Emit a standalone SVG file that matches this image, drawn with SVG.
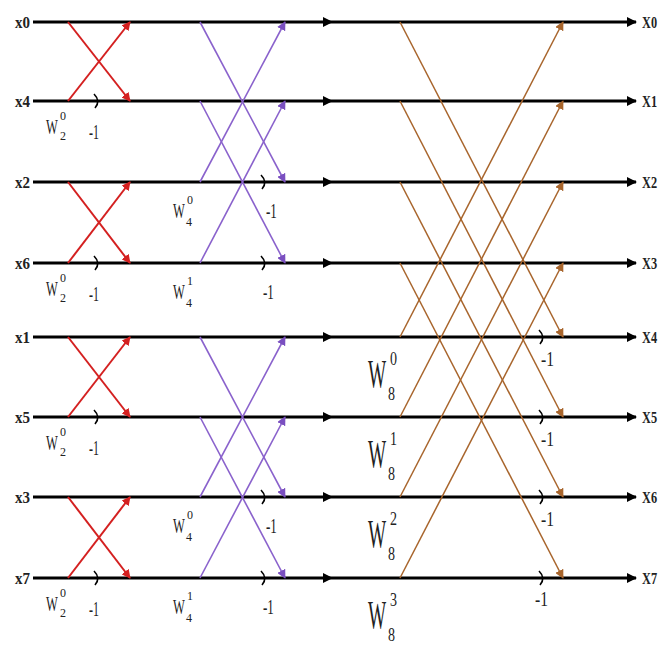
<svg xmlns="http://www.w3.org/2000/svg" width="671" height="649" viewBox="0 0 671 649" font-family="'Liberation Serif', 'Times New Roman', serif">
<defs>
<marker id="ab" viewBox="0 0 10 10" refX="9" refY="5" markerWidth="10" markerHeight="10" markerUnits="userSpaceOnUse" orient="auto"><path d="M0 0L10 5L0 10z" fill="#000"/></marker>
<marker id="ar" viewBox="0 0 10 10" refX="9" refY="5" markerWidth="9" markerHeight="9" markerUnits="userSpaceOnUse" orient="auto"><path d="M0 0L10 5L0 10z" fill="#d42020"/></marker>
<marker id="ap" viewBox="0 0 10 10" refX="9" refY="5" markerWidth="9" markerHeight="9" markerUnits="userSpaceOnUse" orient="auto"><path d="M0 0L10 5L0 10z" fill="#7a4fc0"/></marker>
<marker id="ao" viewBox="0 0 10 10" refX="9" refY="5" markerWidth="9" markerHeight="9" markerUnits="userSpaceOnUse" orient="auto"><path d="M0 0L10 5L0 10z" fill="#a8652c"/></marker>
</defs>
<style>
.ln{stroke:#000;stroke-width:3;fill:none}
.r{stroke:#d42020;stroke-width:2;fill:none;marker-end:url(#ar)}
.p{stroke:#8a62cc;stroke-width:1.6;fill:none;marker-end:url(#ap)}
.o{stroke:#a8652c;stroke-width:1.5;fill:none;marker-end:url(#ao)}
.m{stroke:#000;stroke-width:1.6;fill:none}
text{font-family:"Liberation Serif","Times New Roman",serif;fill:#222}
.lb{font-size:16px;font-weight:bold}
.w{font-size:22px}
.w8{font-size:40px}
.s{font-size:12px}
.s8{font-size:18px}
.n{font-size:21px}
.n3{font-size:22px}
</style>
<rect width="671" height="649" fill="#fff"/>
<g id="connectors">
<g class="ln">
<path d="M33 22H332" marker-end="url(#ab)"/><path d="M332 22H636" marker-end="url(#ab)"/>
<path d="M33 101H332" marker-end="url(#ab)"/><path d="M332 101H636" marker-end="url(#ab)"/>
<path d="M33 182H332" marker-end="url(#ab)"/><path d="M332 182H636" marker-end="url(#ab)"/>
<path d="M33 263H332" marker-end="url(#ab)"/><path d="M332 263H636" marker-end="url(#ab)"/>
<path d="M33 337H332" marker-end="url(#ab)"/><path d="M332 337H636" marker-end="url(#ab)"/>
<path d="M33 417H332" marker-end="url(#ab)"/><path d="M332 417H636" marker-end="url(#ab)"/>
<path d="M33 497H332" marker-end="url(#ab)"/><path d="M332 497H636" marker-end="url(#ab)"/>
<path d="M33 578H332" marker-end="url(#ab)"/><path d="M332 578H636" marker-end="url(#ab)"/>
</g>
<path class="r" d="M68 22L130 101"/><path class="r" d="M68 101L130 22"/>
<path class="r" d="M68 182L130 263"/><path class="r" d="M68 263L130 182"/>
<path class="r" d="M68 337L130 417"/><path class="r" d="M68 417L130 337"/>
<path class="r" d="M68 497L130 578"/><path class="r" d="M68 578L130 497"/>
<path class="p" d="M200 22L285 182"/><path class="p" d="M200 182L285 22"/>
<path class="p" d="M200 101L285 263"/><path class="p" d="M200 263L285 101"/>
<path class="p" d="M200 337L285 497"/><path class="p" d="M200 497L285 337"/>
<path class="p" d="M200 417L285 578"/><path class="p" d="M200 578L285 417"/>
<path class="o" d="M400 22L563 337"/><path class="o" d="M400 337L563 22"/>
<path class="o" d="M400 101L563 417"/><path class="o" d="M400 417L563 101"/>
<path class="o" d="M400 182L563 497"/><path class="o" d="M400 497L563 182"/>
<path class="o" d="M400 263L563 578"/><path class="o" d="M400 578L563 263"/>
<g class="m">
<path d="M94 94Q101 101 95 108"/><path d="M94 256Q101 263 95 270"/>
<path d="M94 410Q101 417 95 424"/><path d="M94 571Q101 578 95 585"/>
<path d="M261 175Q268 182 262 189"/><path d="M261 256Q268 263 262 270"/>
<path d="M261 490Q268 497 262 504"/><path d="M261 571Q268 578 262 585"/>
<path d="M539 330Q546 337 540 344"/><path d="M539 410Q546 417 540 424"/>
<path d="M539 490Q546 497 540 504"/><path d="M539 571Q546 578 540 585"/>
</g>
</g>
<g id="inputs" class="lb">
<text x="15" y="28" textLength="15" lengthAdjust="spacingAndGlyphs">x0</text>
<text x="15" y="107" textLength="15" lengthAdjust="spacingAndGlyphs">x4</text>
<text x="15" y="188" textLength="15" lengthAdjust="spacingAndGlyphs">x2</text>
<text x="15" y="269" textLength="15" lengthAdjust="spacingAndGlyphs">x6</text>
<text x="15" y="343" textLength="15" lengthAdjust="spacingAndGlyphs">x1</text>
<text x="15" y="423" textLength="15" lengthAdjust="spacingAndGlyphs">x5</text>
<text x="15" y="503" textLength="15" lengthAdjust="spacingAndGlyphs">x3</text>
<text x="15" y="584" textLength="15" lengthAdjust="spacingAndGlyphs">x7</text>
</g>
<g id="outputs" class="lb">
<text transform="translate(642 28) scale(0.77 1)">X0</text>
<text transform="translate(642 107) scale(0.77 1)">X1</text>
<text transform="translate(642 188) scale(0.77 1)">X2</text>
<text transform="translate(642 269) scale(0.77 1)">X3</text>
<text transform="translate(642 343) scale(0.77 1)">X4</text>
<text transform="translate(642 423) scale(0.77 1)">X5</text>
<text transform="translate(642 503) scale(0.77 1)">X6</text>
<text transform="translate(642 584) scale(0.77 1)">X7</text>
</g>
<g id="twiddles">
<g id="w20a"><text class="w" transform="translate(46 134) scale(0.57 1)">W</text><text class="s" x="60" y="120">0</text><text class="s" x="60" y="140">2</text></g>
<g id="w20b"><text class="w" transform="translate(46 296) scale(0.57 1)">W</text><text class="s" x="60" y="282">0</text><text class="s" x="60" y="302">2</text></g>
<g id="w20c"><text class="w" transform="translate(46 450) scale(0.57 1)">W</text><text class="s" x="60" y="436">0</text><text class="s" x="60" y="456">2</text></g>
<g id="w20d"><text class="w" transform="translate(46 611) scale(0.57 1)">W</text><text class="s" x="60" y="597">0</text><text class="s" x="60" y="617">2</text></g>
<g id="w40a"><text class="w" transform="translate(173 218) scale(0.57 1)">W</text><text class="s" x="187" y="204">0</text><text class="s" x="186" y="226">4</text></g>
<g id="w41a"><text class="w" transform="translate(173 299) scale(0.57 1)">W</text><text class="s" x="187" y="285">1</text><text class="s" x="186" y="307">4</text></g>
<g id="w40b"><text class="w" transform="translate(173 533) scale(0.57 1)">W</text><text class="s" x="187" y="519">0</text><text class="s" x="186" y="541">4</text></g>
<g id="w41b"><text class="w" transform="translate(173 614) scale(0.57 1)">W</text><text class="s" x="187" y="600">1</text><text class="s" x="186" y="622">4</text></g>
<g id="w80"><text class="w8" transform="translate(368 387) scale(0.48 1)">W</text><text class="s8" transform="translate(390 365) scale(0.78 1)">0</text><text class="s8" transform="translate(388 400) scale(0.78 1)">8</text></g>
<g id="w81"><text class="w8" transform="translate(368 467) scale(0.48 1)">W</text><text class="s8" transform="translate(390 445) scale(0.78 1)">1</text><text class="s8" transform="translate(388 480) scale(0.78 1)">8</text></g>
<g id="w82"><text class="w8" transform="translate(368 547) scale(0.48 1)">W</text><text class="s8" transform="translate(390 525) scale(0.78 1)">2</text><text class="s8" transform="translate(388 560) scale(0.78 1)">8</text></g>
<g id="w83"><text class="w8" transform="translate(368 628) scale(0.48 1)">W</text><text class="s8" transform="translate(390 606) scale(0.78 1)">3</text><text class="s8" transform="translate(388 641) scale(0.78 1)">8</text></g>
</g>
<g id="minus">
<text class="n" transform="translate(89 139) scale(0.57 1)">-1</text>
<text class="n" transform="translate(89 301) scale(0.57 1)">-1</text>
<text class="n" transform="translate(89 455) scale(0.57 1)">-1</text>
<text class="n" transform="translate(89 616) scale(0.57 1)">-1</text>
<text class="n" transform="translate(266 218) scale(0.62 1)">-1</text>
<text class="n" transform="translate(263 299) scale(0.62 1)">-1</text>
<text class="n" transform="translate(266 533) scale(0.62 1)">-1</text>
<text class="n" transform="translate(263 614) scale(0.62 1)">-1</text>
<text class="n3" transform="translate(541 366) scale(0.71 1)">-1</text>
<text class="n3" transform="translate(541 446) scale(0.71 1)">-1</text>
<text class="n3" transform="translate(541 526) scale(0.71 1)">-1</text>
<text class="n3" transform="translate(535 606) scale(0.71 1)">-1</text>
</g>
</svg>
